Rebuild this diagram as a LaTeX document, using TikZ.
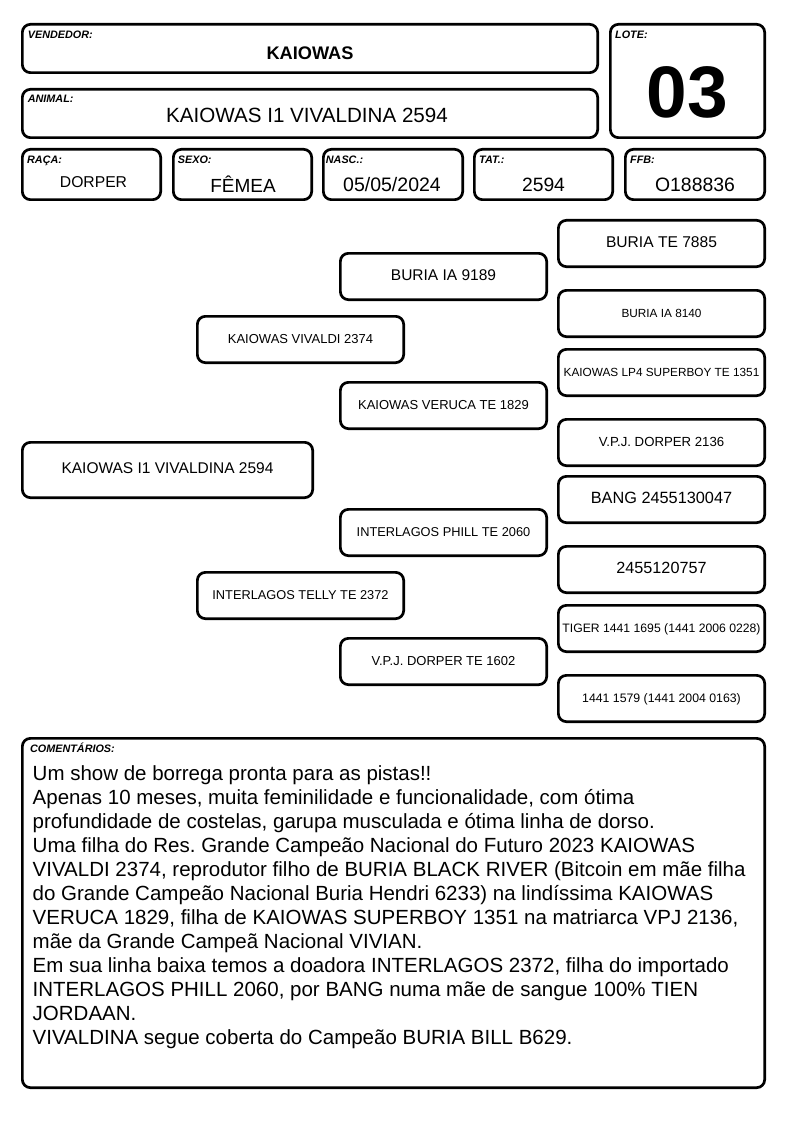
\documentclass[tikz,border=0pt]{standalone}
\usepackage{fontspec}
\setmainfont{Liberation Sans}
\frenchspacing
\tikzset{
  box/.style={draw, line width=2.7pt, rounded corners=8pt, inner sep=0pt, text height=0.72em, text depth=0pt, align=center},
  lab/.style={anchor=base west, inner sep=0pt, font=\fontsize{10.8}{12}\selectfont\bfseries\itshape},
  val/.style={anchor=base, inner sep=0pt},
}
\newcommand\pnode[7]{%
  \node[box, minimum width={#4-#2-2.7}, minimum height={#5-#3-2.7}, font=\fontsize{#6}{#6}\selectfont] (#1) at ({(#2+#4)/2},{(#3+#5)/2}) {#7};}
\begin{document}
\begin{tikzpicture}[x=1pt, y=-1pt]
\useasboundingbox (0,0) rectangle (794,1123);
% header
\pnode{vend}{21}{23}{599}{74}{10}{}
\pnode{anim}{21}{88}{599}{139}{10}{}
\pnode{lote}{609}{23}{766}{139}{10}{}
\pnode{raca}{21}{148}{162}{201}{10}{}
\pnode{sexo}{172}{148}{313}{201}{10}{}
\pnode{nasc}{322}{148}{464}{201}{10}{}
\pnode{tat}{473}{148}{614}{201}{10}{}
\pnode{ffb}{624}{148}{766}{201}{10}{}
\node[lab] (vendL) at (27.7,39) {VENDEDOR:};
\node[lab] (animL) at (27.7,103) {ANIMAL:};
\node[lab] (loteL) at (615,39) {LOTE:};
\node[lab] (racaL) at (27,164) {RAÇA:};
\node[lab] (sexoL) at (177.7,164) {SEXO:};
\node[lab] (nascL) at (325.7,164) {NASC.:};
\node[lab] (tatL) at (479,164) {TAT.:};
\node[lab] (ffbL) at (630,164) {FFB:};
\node[val, font=\fontsize{18.2}{20}\selectfont\bfseries] (vendV) at (310,59.5) {KAIOWAS};
\node[val, font=\fontsize{20.6}{22}\selectfont] (animV) at (307,123) {KAIOWAS I1 VIVALDINA 2594};
\node[val, font=\fontsize{73}{73}\selectfont\bfseries] (loteV) at (687.5,117.5) {03};
\node[val, font=\fontsize{15.7}{18}\selectfont] (racaV) at (93.5,188) {DORPER};
\node[val, font=\fontsize{19}{21}\selectfont] (sexoV) at (243,192.5) {FÊMEA};
\node[val, font=\fontsize{19.5}{21}\selectfont] (nascV) at (392,192) {05/05/2024};
\node[val, font=\fontsize{19.3}{21}\selectfont] (tatV) at (543.5,192) {2594};
\node[val, font=\fontsize{19.4}{21}\selectfont] (ffbV) at (695,192) {O188836};
% pedigree
\pnode{p0}{21}{441}{314}{499}{15.5}{KAIOWAS I1 VIVALDINA 2594}
\pnode{s}{196}{315}{405}{364}{13}{KAIOWAS VIVALDI 2374}
\pnode{d}{196}{571}{405}{620}{12.8}{INTERLAGOS TELLY TE 2372}
\pnode{ss}{339}{252}{548}{301}{15.5}{BURIA IA 9189}
\pnode{sd}{339}{381}{548}{430}{13}{KAIOWAS VERUCA TE 1829}
\pnode{ds}{339}{508}{548}{557}{12.8}{INTERLAGOS PHILL TE 2060}
\pnode{dd}{339}{637}{548}{686}{13}{V.P.J. DORPER TE 1602}
\pnode{sss}{557}{219}{766}{268}{15.6}{BURIA TE 7885}
\pnode{ssd}{557}{289}{766}{338}{11.8}{BURIA IA 8140}
\pnode{sds}{557}{348}{766}{397}{11.8}{KAIOWAS LP4 SUPERBOY TE 1351}
\pnode{sdd}{557}{418}{766}{467}{13.2}{V.P.J. DORPER 2136}
\pnode{dss}{557}{475}{766}{524}{16.3}{BANG 2455130047}
\pnode{dsd}{557}{545}{766}{594}{16.2}{2455120757}
\pnode{dds}{557}{604}{766}{653}{12.2}{TIGER 1441 1695 (1441 2006 0228)}
\pnode{ddd}{557}{674}{766}{723}{12.3}{1441 1579 (1441 2004 0163)}
% comments
\pnode{com}{21}{737}{766}{1089}{10}{}
\node[lab] (comL) at (30,752.7) {COMENTÁRIOS:};
\node[anchor=base west, inner sep=0pt, align=left, font=\fontsize{20.5}{24}\selectfont] (comT) at (32.5,1044.7) {Um show de borrega pronta para as pistas!!\\
Apenas 10 meses, muita feminilidade e funcionalidade, com ótima\\
profundidade de costelas, garupa musculada e ótima linha de dorso.\\
Uma filha do Res. Grande Campeão Nacional do Futuro 2023 KAIOWAS\\
VIVALDI 2374, reprodutor filho de BURIA BLACK RIVER (Bitcoin em mãe filha\\
do Grande Campeão Nacional Buria Hendri 6233) na lindíssima KAIOWAS\\
VERUCA 1829, filha de KAIOWAS SUPERBOY 1351 na matriarca VPJ 2136,\\
mãe da Grande Campeã Nacional VIVIAN.\\
Em sua linha baixa temos a doadora INTERLAGOS 2372, filha do importado\\
INTERLAGOS PHILL 2060, por BANG numa mãe de sangue 100\% TIEN\\
JORDAAN.\\
VIVALDINA segue coberta do Campeão BURIA BILL B629.};
\end{tikzpicture}
\end{document}
